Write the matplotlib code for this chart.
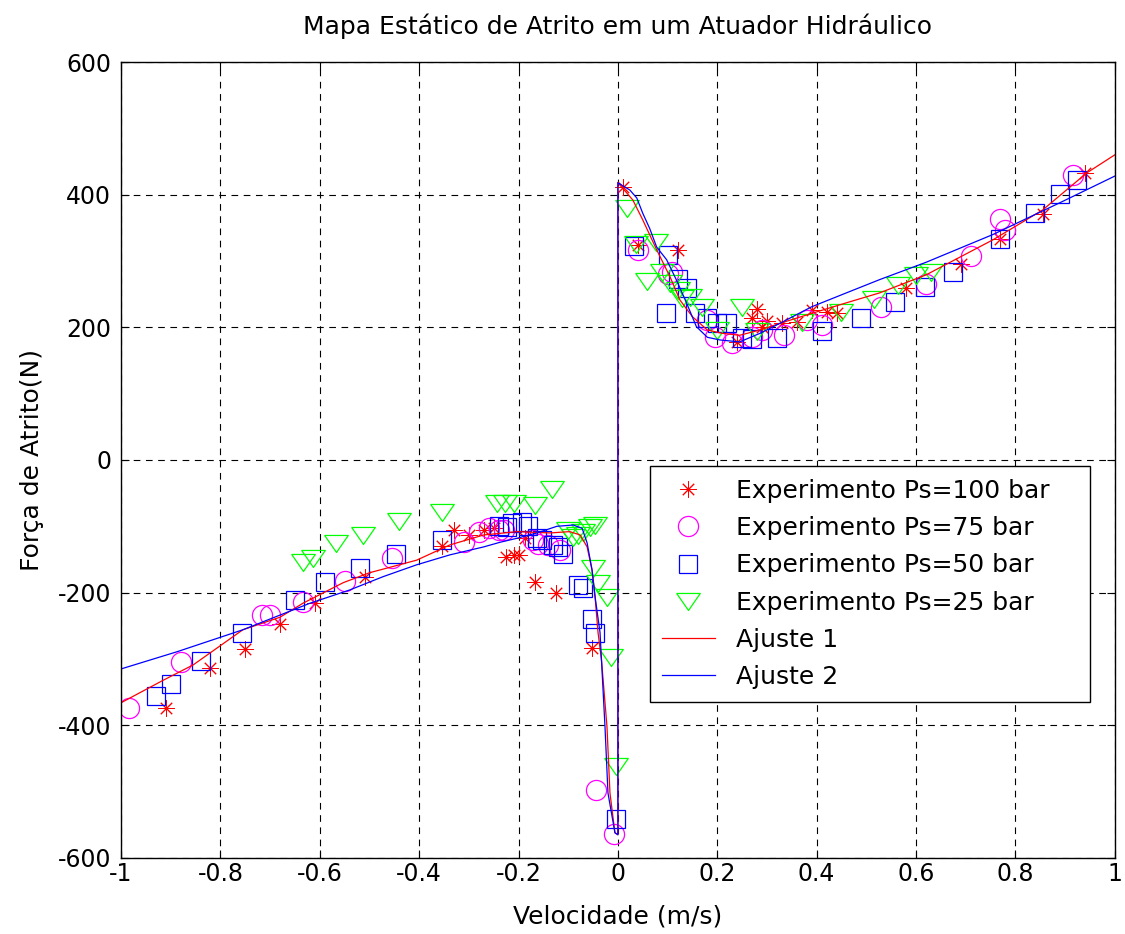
"""Static friction map of a hydraulic actuator: experiments and fitted curves"""

import matplotlib
matplotlib.use("Agg")
import matplotlib.pyplot as plt

# Experimento Ps=100 bar
vel_100 = [-0.91, -0.82, -0.75, -0.68, -0.61, -0.51, -0.355, -0.33, -0.30, -0.27,
           -0.25, -0.225, -0.21, -0.20, -0.187, -0.167, -0.125, -0.052, 0.01, 0.04,
           0.12, 0.24, 0.27, 0.28, 0.29, 0.30, 0.33, 0.36, 0.39, 0.42, 0.44, 0.58,
           0.69, 0.77, 0.855, 0.94]
forca_100 = [-374, -313, -285, -247, -215, -176, -130, -106, -113, -106,
             -103, -146, -143, -143, -118, -184, -201, -283, 412, 324,
             317, 178, 214, 228, 200, 209, 206, 208, 226, 223, 221, 259,
             296, 333, 371, 433]

# Experimento Ps=75 bar
vel_75 = [-0.985, -0.88, -0.716, -0.70, -0.634, -0.55, -0.455, -0.31, -0.28, -0.26,
          -0.24, -0.23, -0.17, -0.16, -0.14, -0.117, -0.044, -0.008, 0.04, 0.10,
          0.108, 0.18, 0.195, 0.23, 0.27, 0.29, 0.335, 0.38, 0.41, 0.53, 0.62,
          0.71, 0.77, 0.78, 0.915]
forca_75 = [-374, -304, -234, -234, -214, -182, -148, -123, -108, -103,
            -105, -106, -121, -126, -128, -136, -498, -564, 316, 280,
            283, 211, 185, 176, 185, 196, 188, 211, 203, 231, 265,
            307, 363, 346, 430]

# Experimento Ps=50 bar
vel_50 = [-0.93, -0.90, -0.84, -0.757, -0.65, -0.59, -0.52, -0.447, -0.354, -0.24,
          -0.224, -0.213, -0.193, -0.18, -0.163, -0.153, -0.13, -0.12, -0.11, -0.08,
          -0.07, -0.052, -0.046, -0.004, 0.032, 0.097, 0.10, 0.12, 0.14, 0.155,
          0.18, 0.20, 0.22, 0.25, 0.27, 0.32, 0.41, 0.49, 0.557, 0.618,
          0.674, 0.77, 0.84, 0.89, 0.925]
forca_50 = [-356, -338, -303, -261, -211, -184, -163, -142, -121, -100,
            -101, -95, -94, -100, -118, -121, -128, -131, -141, -188,
            -193, -239, -261, -541, 323, 221, 309, 273, 260, 221,
            214, 206, 206, 184, 183, 184, 194, 214, 238, 261,
            283, 333, 372, 401, 422]

# Experimento Ps=25 bar
vel_25 = [-0.634, -0.614, -0.567, -0.513, -0.44, -0.354, -0.244, -0.227, -0.21, -0.167,
          -0.133, -0.10, -0.09, -0.08, -0.07, -0.056, -0.046, -0.05, -0.04, -0.022,
          -0.014, -0.004, 0.018, 0.036, 0.058, 0.076, 0.088, 0.105, 0.12, 0.13,
          0.145, 0.17, 0.20, 0.25, 0.28, 0.37, 0.45, 0.515, 0.563, 0.60, 0.63]
forca_25 = [-154, -148, -125, -113, -92, -78, -65, -65, -65, -68,
            -43, -106, -116, -113, -108, -101, -98, -163, -185, -206,
            -297, -461, 380, 326, 270, 329, 283, 267, 256, 244,
            246, 230, 196, 230, 195, 208, 223, 242, 264, 279, 283]

# Ajuste 1
vel_aj1 = [-1.0, -0.915, -0.855, -0.755, -0.68, -0.634, -0.553, -0.50, -0.405, -0.338,
           -0.27, -0.203, -0.137, -0.097, -0.076, -0.062, -0.052, -0.046, -0.04, -0.033,
           -0.022, -0.016, -0.006, 0.0, 0.0, 0.03, 0.05, 0.078, 0.105, 0.125,
           0.15, 0.18, 0.21, 0.245, 0.286, 0.326, 0.39, 0.46, 0.527, 0.62,
           0.755, 0.855, 0.944, 1.0]
forca_aj1 = [-366, -332, -309, -256, -237, -216, -185, -170, -151, -128,
             -113, -108, -110, -108, -113, -131, -166, -206, -260, -302,
             -402, -502, -562, -565, 418, 392, 362, 317, 276, 241,
             216, 196, 191, 188, 196, 206, 221, 237, 252, 279,
             332, 377, 433, 460]

# Ajuste 2
vel_aj2 = [-1.0, -0.887, -0.755, -0.62, -0.54, -0.473, -0.405, -0.338, -0.27, -0.237,
           -0.203, -0.163, -0.123, -0.09, -0.072, -0.062, -0.052, -0.046, -0.036, -0.026,
           -0.02, -0.006, 0.0, 0.0, 0.024, 0.038, 0.05, 0.064, 0.078, 0.098,
           0.118, 0.138, 0.158, 0.18, 0.205, 0.245, 0.286, 0.326, 0.39, 0.46,
           0.527, 0.62, 0.755, 0.89, 1.0]
forca_aj2 = [-315, -289, -256, -216, -196, -176, -158, -143, -131, -124,
             -118, -110, -100, -98, -103, -125, -166, -206, -260, -402,
             -502, -562, -565, 418, 407, 395, 372, 349, 321, 302,
             271, 237, 201, 185, 181, 178, 191, 206, 231, 252,
             272, 298, 340, 388, 428]

plt.rcParams["font.family"] = ["DejaVu Sans"]
plt.rcParams["axes.unicode_minus"] = False

fig = plt.figure(figsize=(11.25, 9.34), dpi=100)
ax = fig.add_axes([0.1076, 0.0814, 0.8833, 0.8522])

# down-pointing triangle, wider than tall
tri = [(-1.25, 0.85), (1.25, 0.85), (0.0, -0.95), (-1.25, 0.85)]

ax.plot(vel_100, forca_100, linestyle="none", marker=(8, 2, 0), markersize=11.5,
        markeredgecolor="#ff0000", markeredgewidth=0.7, label="Experimento Ps=100 bar")
ax.plot(vel_75, forca_75, linestyle="none", marker="o", markersize=14.5,
        markerfacecolor="none", markeredgecolor="#ff00ff", markeredgewidth=0.9,
        label="Experimento Ps=75 bar")
ax.plot(vel_50, forca_50, linestyle="none", marker="s", markersize=13,
        markerfacecolor="none", markeredgecolor="#0000ff", markeredgewidth=0.9,
        label="Experimento Ps=50 bar")
ax.plot(vel_25, forca_25, linestyle="none", marker=tri, markersize=17,
        markerfacecolor="none", markeredgecolor="#00ff00", markeredgewidth=0.9,
        label="Experimento Ps=25 bar")
ax.plot(vel_aj1, forca_aj1, color="#ff0000", linewidth=0.9, label="Ajuste 1")
ax.plot(vel_aj2, forca_aj2, color="#0000ff", linewidth=0.9, label="Ajuste 2")

ax.set_xlim(-1, 1)
ax.set_ylim(-600, 600)
ax.set_xticks([-1, -0.8, -0.6, -0.4, -0.2, 0, 0.2, 0.4, 0.6, 0.8, 1])
ax.set_xticklabels(["-1", "-0.8", "-0.6", "-0.4", "-0.2", "0", "0.2", "0.4", "0.6", "0.8", "1"])
ax.set_yticks([-600, -400, -200, 0, 200, 400, 600])
ax.tick_params(direction="in", length=6, width=0.8, top=True, right=True,
               labelsize=17)
ax.tick_params(axis="x", pad=3)
ax.tick_params(axis="y", pad=7)
ax.grid(True, color="black", linestyle=(0, (6, 5)), linewidth=0.8)
for s in ax.spines.values():
    s.set_linewidth(1.0)

ax.set_title("Mapa Estático de Atrito em um Atuador Hidráulico", fontsize=18, pad=20)
ax.set_xlabel("Velocidade (m/s)", fontsize=18, labelpad=13)
ax.set_ylabel("Força de Atrito(N)", fontsize=18, labelpad=10)

leg = ax.legend(loc="upper left", bbox_to_anchor=(0.532, 0.193, 0.443, 0.299),
                mode="expand", fontsize=18, frameon=True, fancybox=False,
                edgecolor="black", framealpha=1, handlelength=2.1,
                handletextpad=0.85, labelspacing=0.53, borderpad=0.5,
                borderaxespad=0.0)
leg.get_frame().set_linewidth(1.0)

fig.savefig("out.png", dpi=100)
